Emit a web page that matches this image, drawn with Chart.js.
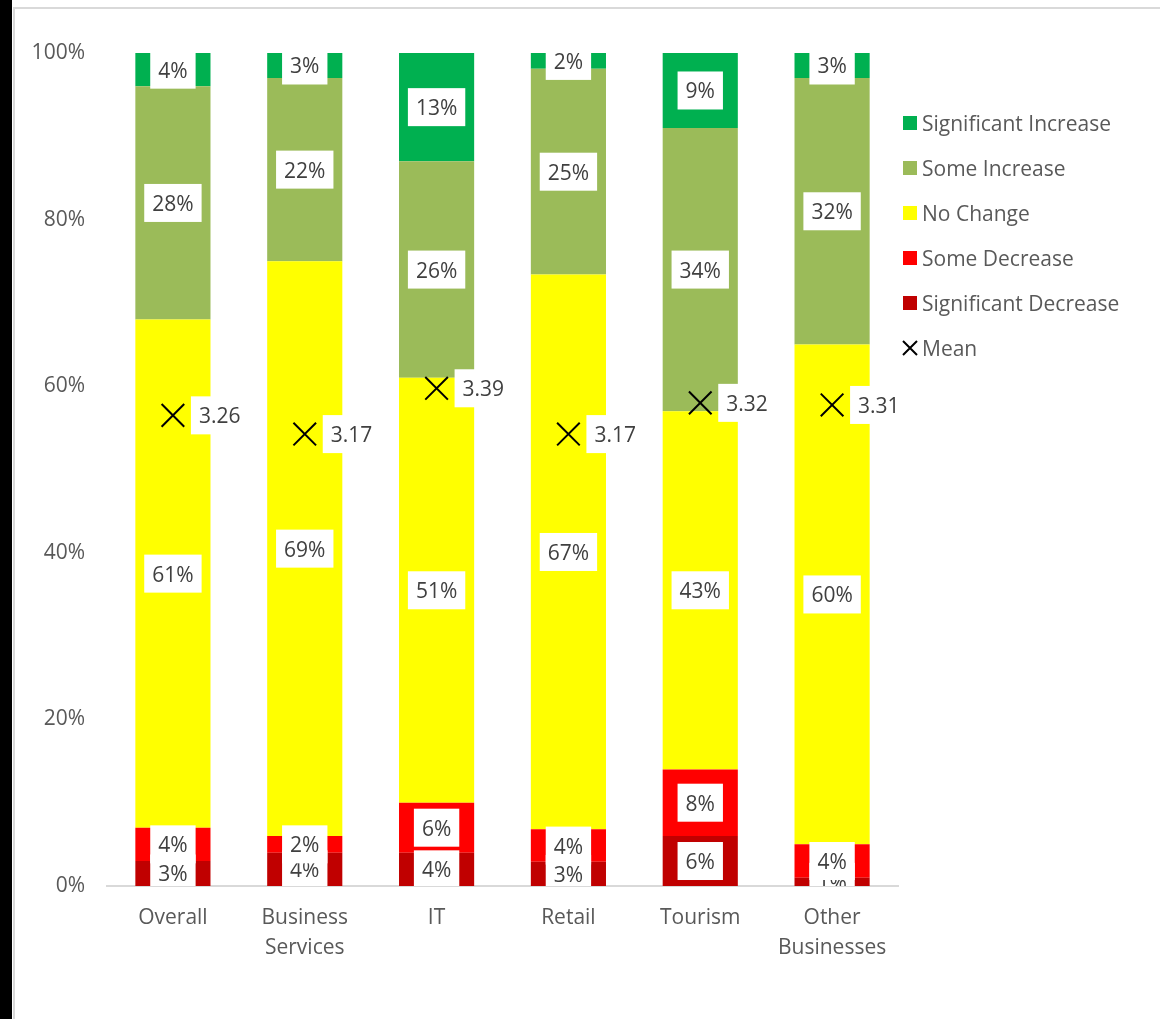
<!DOCTYPE html>
<html><head><meta charset="utf-8">
<script src="https://cdn.jsdelivr.net/npm/chart.js@4.4.0/dist/chart.umd.min.js"></script>
<style>
html,body{margin:0;padding:0;background:#fff;width:1160px;height:1019px;overflow:hidden;}
#strip{position:absolute;left:0;top:0;width:12px;height:1019px;background:#000;}
#frame{position:absolute;left:13px;top:7px;width:1147px;height:1012px;border-left:2px solid #d9d9d9;border-top:2px solid #d9d9d9;box-sizing:border-box;}
#wrap{position:absolute;left:0;top:0;width:1160px;height:1019px;}
</style></head>
<body><div id="strip"></div><div id="frame"></div><div id="wrap"><canvas id="c"></canvas></div>
<script>
const categories = [['Overall'], ['Business', 'Services'], ['IT'], ['Retail'], ['Tourism'], ['Other', 'Businesses']];
const significantDecrease = [3, 4, 4, 2.9, 6, 1];
const someDecrease = [4, 2, 6, 3.9, 8, 4];
const noChange = [61, 69, 51, 66.6, 43, 60];
const someIncrease = [28, 22, 26, 24.7, 34, 32];
const significantIncrease = [4, 3, 13, 1.9, 9, 3];
const meanScore = [3.26, 3.17, 3.39, 3.17, 3.32, 3.31];
const yTickValues = [0, 20, 40, 60, 80, 100];
const seriesNames = ['Significant Decrease', 'Some Decrease', 'No Change', 'Some Increase', 'Significant Increase', 'Mean'];

const FONT = '"Open Sans", "Noto Sans", sans-serif';
const FS = 21;
Chart.defaults.font.family = FONT;

const colors = ['#C00000', '#FF0000', '#FFFF00', '#9BBB59', '#00B050'];

const labelPlugin = {
  id: 'boxLabels',
  afterDatasetsDraw(chart) {
    const ctx = chart.ctx, a = chart.chartArea;
    ctx.save();
    ctx.beginPath();
    ctx.rect(a.left, a.top, a.right - a.left, a.bottom - a.top);
    ctx.clip();
    ctx.font = FS + 'px ' + FONT;
    ctx.textBaseline = 'middle';
    chart.data.datasets.forEach((ds, di) => {
      const meta = chart.getDatasetMeta(di);
      meta.data.forEach((el, i) => {
        const v = ds.data[i];
        if (ds.type === 'line') {
          const txt = v.toFixed(2);
          const w = ctx.measureText(txt).width + 17;
          const x0 = el.x + 18;
          ctx.fillStyle = '#ffffff';
          ctx.fillRect(x0, el.y - 19, w, 38);
          ctx.fillStyle = '#404040';
          ctx.textAlign = 'left';
          ctx.fillText(txt, x0 + 8, el.y + 2);
        } else {
          const txt = Math.round(v) + '%';
          const cy = (el.y + el.base) / 2;
          const w = ctx.measureText(txt).width + 16;
          ctx.fillStyle = '#ffffff';
          ctx.fillRect(el.x - w / 2, cy - 19, w, 38);
          ctx.fillStyle = '#404040';
          ctx.textAlign = 'center';
          ctx.fillText(txt, el.x, cy + 2);
        }
      });
    });
    ctx.restore();
  }
};

const legendPlugin = {
  id: 'sideLegend',
  afterDraw(chart) {
    const ctx = chart.ctx, a = chart.chartArea;
    const order = [4, 3, 2, 1, 0, 5];
    ctx.save();
    ctx.font = FS + 'px ' + FONT;
    ctx.textBaseline = 'middle';
    ctx.textAlign = 'left';
    const x = a.right + 5;
    order.forEach((di, k) => {
      const y = a.top + 70 + k * 45;
      const ds = chart.data.datasets[di];
      if (di === 5) {
        ctx.strokeStyle = '#000';
        ctx.lineWidth = 2;
        ctx.beginPath();
        ctx.moveTo(x, y - 7); ctx.lineTo(x + 14, y + 7);
        ctx.moveTo(x + 14, y - 7); ctx.lineTo(x, y + 7);
        ctx.stroke();
      } else {
        ctx.fillStyle = ds.backgroundColor;
        ctx.fillRect(x, y - 7, 14, 14);
      }
      ctx.fillStyle = '#595959';
      ctx.fillText(ds.label, x + 19, y + 2);
    });
    ctx.restore();
  }
};

const barSeries = [significantDecrease, someDecrease, noChange, someIncrease, significantIncrease];
const datasets = barSeries.map((arr, i) => ({
  type: 'bar',
  label: seriesNames[i],
  data: arr,
  backgroundColor: colors[i],
  borderWidth: 0,
  barPercentage: 0.57,
  categoryPercentage: 1.0,
  yAxisID: 'y',
  order: 2
}));
datasets.push({
  type: 'line',
  label: seriesNames[5],
  data: meanScore,
  yAxisID: 'y2',
  showLine: false,
  pointStyle: 'crossRot',
  pointRadius: 16,
  pointHoverRadius: 16,
  borderColor: '#000000',
  backgroundColor: '#000000',
  pointBorderWidth: 2,
  order: 1
});

new Chart(document.getElementById('c'), {
  data: { labels: categories, datasets },
  options: {
    responsive: true,
    maintainAspectRatio: false,
    animation: false,
    events: [],
    layout: { padding: { top: 53, left: 0, right: 262, bottom: 0 } },
    plugins: { legend: { display: false }, tooltip: { enabled: false } },
    scales: {
      x: {
        stacked: true,
        grid: { display: false, drawTicks: false },
        border: { display: true, color: '#d9d9d9', width: 2 },
        ticks: { color: '#595959', font: { size: FS, lineHeight: 1.43 }, padding: 17, maxRotation: 0, autoSkip: false },
        afterFit: s => { s.height = 133; }
      },
      y: {
        stacked: true,
        min: 0, max: 100,
        grid: { display: false, drawTicks: false },
        border: { display: false },
        afterBuildTicks: s => { s.ticks = yTickValues.map(v => ({ value: v })); },
        ticks: { color: '#595959', font: { size: FS }, padding: 22, callback: v => v + '%' },
        afterFit: s => { s.width = 107; }
      },
      y2: {
        display: false,
        min: 1, max: 5
      }
    }
  },
  plugins: [labelPlugin, legendPlugin]
});
</script>
</body></html>
